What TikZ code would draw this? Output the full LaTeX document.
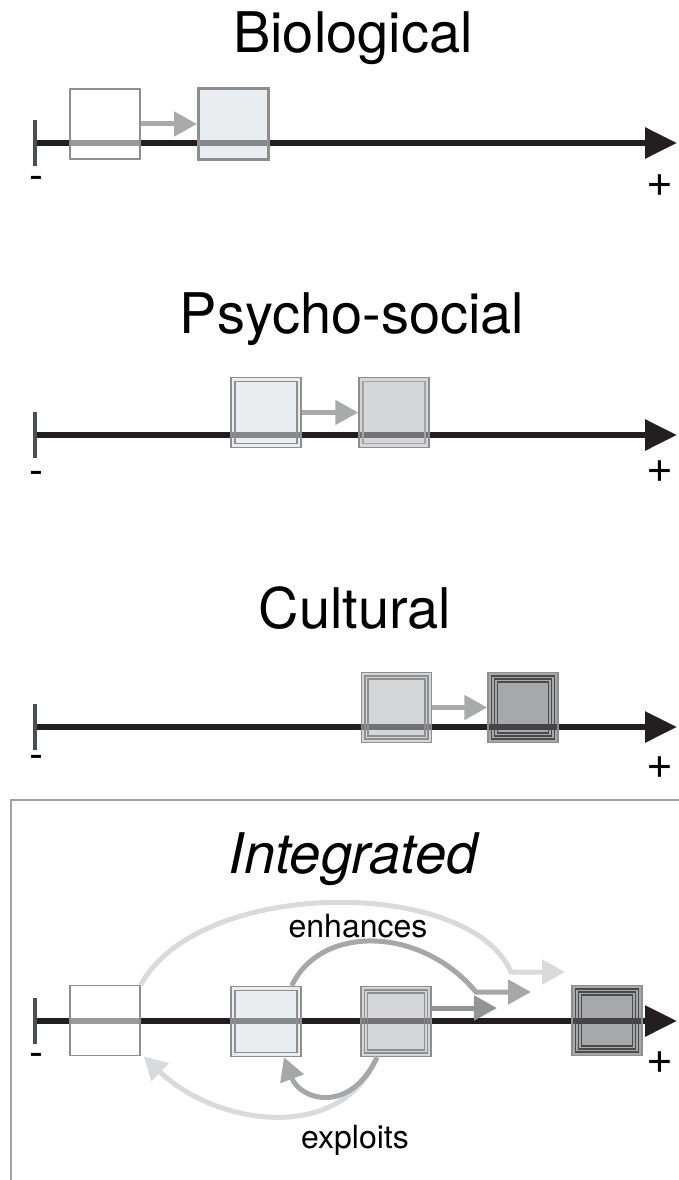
\documentclass[tikz,border=0pt]{standalone}
\usepackage{fontspec}
\setmainfont{TeX Gyre Heros}
\usetikzlibrary{arrows.meta}

\definecolor{axisblack}{HTML}{231F20}
\definecolor{tickgray}{HTML}{4A4F55}
\definecolor{rimgray}{HTML}{8E8E8E}
\definecolor{darkrim}{HTML}{4A4A4A}
\definecolor{flowgray}{HTML}{A9AAAA}
\definecolor{palegray}{HTML}{D9DADC}
\definecolor{midgray}{HTML}{A6A7A8}
\definecolor{deepgray}{HTML}{939494}
\definecolor{framegray}{HTML}{A3A3A3}
\definecolor{stageB}{HTML}{D9DEE1}
\definecolor{stageC}{HTML}{B3B5B8}
\definecolor{stageD}{HTML}{5E6065}

\tikzset{
  axis/.style={line width=6pt, draw=axisblack, -{Triangle[length=32pt,width=30pt]}},
  tickmark/.style={line width=4pt, draw=tickgray},
  stage/.style={draw=rimgray, line width=1.5pt, minimum size=70pt, inner sep=0pt, fill=#1, fill opacity=0.55},
  rings/.style 2 args={path picture={
    \foreach \d in {#1}
      \draw[#2, line width=1.3pt] ([shift={(\d pt,-\d pt)}]path picture bounding box.north west)
        rectangle ([shift={(-\d pt,\d pt)}]path picture bounding box.south east);}},
  flow/.style={line width=5pt, draw=#1, -{Triangle[length=23pt,width=24pt]}},
  title/.style={anchor=base, font=\fontsize{56}{58}\selectfont},
  minus/.style={font=\fontsize{42}{42}\selectfont},
  plus/.style={font=\fontsize{46}{46}\selectfont},
  word/.style={font=\fontsize{32}{33}\selectfont}
}

\begin{document}
\begin{tikzpicture}[x=1pt, y=-1pt]
  \useasboundingbox (0,0) rectangle (679,1180);

  % frame round the last panel
  \draw[framegray, line width=1.5pt] (11,1180) -- (11,800) -- (679,800);

  % titles
  \node[title] (t1) at (353,53) {Biological};
  \node[title] (t2) at (352,333) {Psycho-social};
  \node[title] (t3) at (355,628) {Cultural};
  \node[title] (t4) at (353,873) {\itshape Integrated};

  % the four scales
  \foreach \i/\y in {1/143, 2/435, 3/727, 4/1021} {
    \coordinate (lo\i) at (35,\y);
    \coordinate (hi\i) at (677,\y);
    \draw[axis] (lo\i) -- (hi\i);
    \draw[tickmark] ([yshift=23pt]lo\i) -- ([yshift=-23pt]lo\i);
  }
  \node[minus] (m1) at (36,183) {-};
  \node[plus] (p1) at (660,186) {+};
  \node[minus] (m2) at (36,478) {-};
  \node[plus] (p2) at (660,472) {+};
  \node[minus] (m3) at (36,762) {-};
  \node[plus] (p3) at (660,768) {+};
  \node[minus] (m4) at (36,1060) {-};
  \node[plus] (p4) at (660,1063) {+};

  % biological
  \node[stage=white] (a1) at (105,124) {};
  \node[stage=stageB, line width=3pt] (a2) at (233.5,124) {};
  \draw[flow=flowgray] (a1) -- (a2);

  % psycho-social
  \node[stage=stageB, rings={4}{rimgray}] (b1) at (266,412.5) {};
  \node[stage=stageC, rings={4}{rimgray!80}] (b2) at (394,412.5) {};
  \draw[flow=flowgray] (b1) -- (b2);

  % cultural
  \node[stage=stageC, rings={3.5,6.5}{rimgray}] (c1) at (396.5,707.5) {};
  \node[stage=stageD, rings={3.5,6.5,9.5}{darkrim}] (c2) at (523,707.5) {};
  \draw[flow=flowgray] (c1) -- (c2);

  % integrated
  \node[stage=white] (d1) at (105,1020.5) {};
  \node[stage=stageB, rings={4}{rimgray}] (d2) at (266,1021.5) {};
  \node[stage=stageC, rings={3.5,6.5}{rimgray}] (d3) at (396,1021.5) {};
  \node[stage=stageD, rings={3.5,6.5,9.5}{darkrim}] (d4) at (607,1020.5) {};

  \coordinate (e1) at (565,972);
  \coordinate (e2) at (531,992);
  \coordinate (e3) at (497,1008);

  \draw[flow=palegray] (d1.north east) .. controls (200,877) and (470,877) .. (511,972) -- (e1);
  \draw[flow=midgray] ([xshift=-10pt]d2.north east) .. controls (320,925) and (420,925) .. (476,992) -- (e2);
  \draw[flow=deepgray] ([yshift=13.5pt]d3.east) -- (e3);
  \node[word] (enh) at (358,926) {enhances};

  \draw[flow=palegray] ([xshift=-19pt]d3.south) .. controls (340,1145) and (215,1125) .. ([xshift=3pt]d1.south east);
  \draw[flow=midgray] ([xshift=-19pt]d3.south) .. controls (350,1115) and (300,1100) .. ([xshift=18pt]d2.south);
  \node[word] (exp) at (355,1140) {exploits};
\end{tikzpicture}
\end{document}
